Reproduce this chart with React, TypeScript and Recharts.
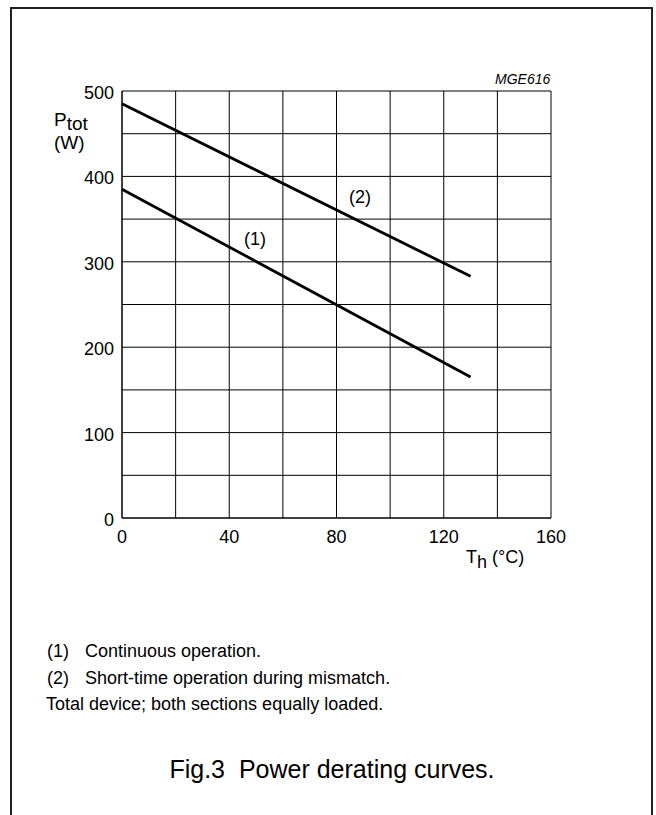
import React from 'react';
import { LineChart, Line, XAxis, YAxis, CartesianGrid, ReferenceDot } from 'recharts';

// heatsink temperature (°C) at the two ends of each curve
const TEMPS = [0, 130];
// (1) continuous operation, W
const CONTINUOUS = [385, 165];
// (2) short-time operation during mismatch, W
const SHORT_TIME = [485, 283];

const X_TICKS = [0, 20, 40, 60, 80, 100, 120, 140, 160];
const Y_TICKS = [0, 50, 100, 150, 200, 250, 300, 350, 400, 450, 500];

const CURVE_LABELS = [
  { id: '(1)', t: 49.6, p: 326 },
  { id: '(2)', t: 88.8, p: 375 },
];

const NOTES = [
  { tag: '(1)', text: 'Continuous operation.' },
  { tag: '(2)', text: 'Short-time operation during mismatch.' },
  { tag: '', text: 'Total device; both sections equally loaded.' },
];

const FONT = '"Liberation Sans", Arial, Helvetica, sans-serif';

const data = TEMPS.map((t, i) => ({ t, c: CONTINUOUS[i], s: SHORT_TIME[i] }));

const XTick = ({ x, y, payload }: any) => {
  if (payload.value % 40 !== 0) return null;
  return (
    <text x={x} y={y + 25} textAnchor="middle" fontSize={18} fill="#000" fontFamily={FONT}>
      {payload.value}
    </text>
  );
};

const YTick = ({ x, y, payload }: any) => {
  if (payload.value % 100 !== 0) return null;
  return (
    <text x={x - 8} y={y + 8} textAnchor="end" fontSize={18} fill="#000" fontFamily={FONT}>
      {payload.value}
    </text>
  );
};

const CurveLabel = ({ cx, cy, text }: any) => (
  <text x={cx} y={cy + 5} textAnchor="middle" fontSize={18} fill="#000" fontFamily={FONT}>
    {text}
  </text>
);

const sub = { fontSize: 19, verticalAlign: 'baseline', position: 'relative' as const, top: 4 };

export default function App() {
  return (
    <div style={{ position: 'absolute', left: 0, top: 0, width: 656, height: 815, overflow: 'hidden', background: '#fff', fontFamily: FONT, color: '#000' }}>
      <div style={{ position: 'absolute', left: 10, top: 7, width: 639, height: 830, border: '2px solid #222' }} />

      <div style={{ position: 'absolute', left: 0, top: 0 }}>
        <LineChart width={656} height={600} data={data} margin={{ top: 91, right: 105, left: 82, bottom: 52 }}>
          <CartesianGrid stroke="#000" strokeWidth={1} />
          <XAxis
            type="number"
            dataKey="t"
            domain={[0, 160]}
            ticks={X_TICKS}
            interval={0}
            height={30}
            tickSize={0}
            tickMargin={0}
            tickLine={false}
            axisLine={{ stroke: '#000' }}
            tick={<XTick />}
          />
          <YAxis
            type="number"
            domain={[0, 500]}
            ticks={Y_TICKS}
            interval={0}
            width={40}
            tickSize={0}
            tickMargin={0}
            tickLine={false}
            axisLine={{ stroke: '#000' }}
            tick={<YTick />}
          />
          <Line dataKey="c" stroke="#000" strokeWidth={2.8} dot={false} isAnimationActive={false} />
          <Line dataKey="s" stroke="#000" strokeWidth={2.8} dot={false} isAnimationActive={false} />
          {CURVE_LABELS.map((l) => (
            <ReferenceDot key={l.id} x={l.t} y={l.p} r={0} shape={(props: any) => <CurveLabel {...props} text={l.id} />} />
          ))}
        </LineChart>
      </div>

      <div style={{ position: 'absolute', left: 54, top: 109, fontSize: 19, lineHeight: '22px', whiteSpace: 'nowrap' }}>
        P<sub style={sub}>tot</sub>
      </div>
      <div style={{ position: 'absolute', left: 54, top: 132, fontSize: 19, lineHeight: '22px' }}>(W)</div>

      <div style={{ position: 'absolute', left: 495, top: 71, fontSize: 14, fontStyle: 'italic', lineHeight: '16px' }}>MGE616</div>

      <div style={{ position: 'absolute', left: 466, top: 547, fontSize: 18, lineHeight: '20px', whiteSpace: 'nowrap' }}>
        T<sub style={{ ...sub, fontSize: 18, top: 5 }}>h</sub> (°C)
      </div>

      {NOTES.map((n, i) => (
        <div key={i} style={{ position: 'absolute', top: 641 + i * 26.5, left: 0, fontSize: 18, lineHeight: '20px', whiteSpace: 'nowrap' }}>
          {n.tag ? (
            <>
              <span style={{ position: 'absolute', left: 47 }}>{n.tag}</span>
              <span style={{ position: 'absolute', left: 85 }}>{n.text}</span>
            </>
          ) : (
            <span style={{ position: 'absolute', left: 46 }}>{n.text}</span>
          )}
        </div>
      ))}

      <div style={{ position: 'absolute', left: 0, width: 664, top: 754, textAlign: 'center', fontSize: 25, lineHeight: '30px', whiteSpace: 'pre' }}>
        {'Fig.3  Power derating curves.'}
      </div>
    </div>
  );
}
